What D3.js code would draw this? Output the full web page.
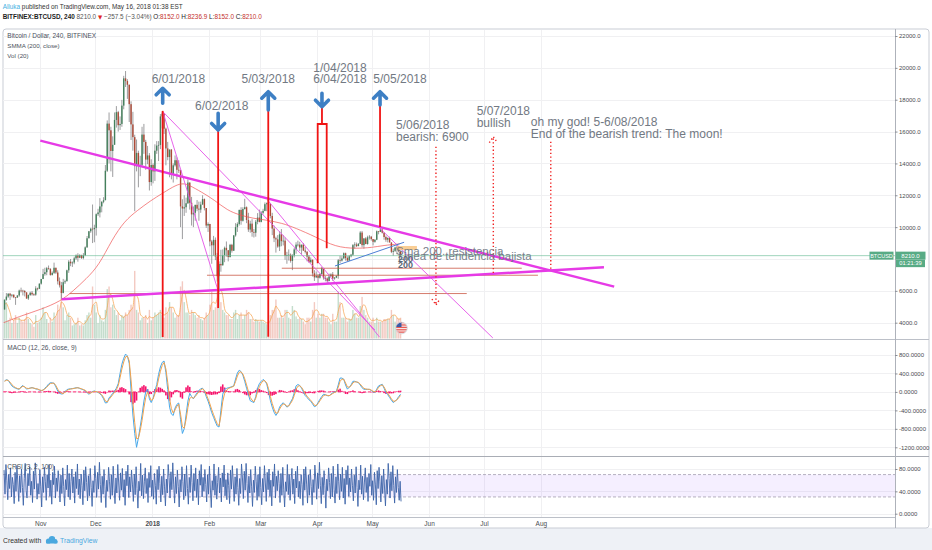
<!DOCTYPE html>
<html>
<head>
<meta charset="utf-8">
<script src="https://cdn.jsdelivr.net/npm/d3@7"></script>
<style>
html, body { margin: 0; padding: 0; background: #fff; }
svg { display: block; font-family: "Liberation Sans", Arial, sans-serif; }
text { white-space: pre; }
</style>
</head>
<body>
<svg id="chart" width="932" height="550"></svg>
<script>
// ---- daily candles, Bitfinex BTCUSD (12 Oct 2017 .. 16 May 2018)
var firstOpen = 4830;
var highs = [
  5450,5860,5850,5870,5780,5770,5600,5730,6080,6200,6070,6050,5920,5770,5950,5990,5850,6290,6200,6470,
  6750,7380,7450,7500,7590,7420,7220,7770,7440,7290,6840,6560,6750,6700,7330,7930,8000,7850,8140,8290,8360,8300,8270,8370,8790,9440,9760,9960,11420,10150,
  10860,11150,11820,11630,11880,13900,16700,17200,16300,15700,17200,17600,17300,16950,17990,19500,19800,19290,18950,17900,17240,15800,15500,14800,14480,16300,16480,15480,15100,14650,14260,
  14000,15200,15400,15400,17100,17250,17100,16250,15350,14850,14900,14000,14500,14380,14200,13600,11750,12000,11850,13000,12800,11900,11300,11400,11700,11600,11600,12000,11800,11200,10300,
  10200,9200,9450,9350,8380,7850,8580,8600,8780,9100,8560,8950,8950,9500,10250,10300,11100,11250,11250,11780,11300,10900,10400,10500,9890,10450,10880,11100,
  11000,11150,11550,11550,11700,11480,10900,10100,9400,9500,9750,9880,9500,9350,8450,8600,8350,8300,8700,9050,9150,9080,8900,9000,8750,8500,8250,8100,7970,7300,7220,
  7050,7100,7500,7440,6930,6850,7080,7100,7180,6870,6970,8000,8200,8180,8410,8400,8170,8250,8320,8940,9050,9030,9000,9750,9760,9310,9370,9460,9500,9450,
  9250,9240,9790,9750,9950,9860,9670,9470,9360,9400,9040,8650,8770,8880,8830,8500
];
var lows = [
  4820,5380,5560,5430,5590,5540,5120,5560,5630,5900,5710,5650,5500,5430,5680,5700,5680,5690,6020,6110,
  6390,6740,6950,6980,7330,6950,6960,7060,7060,6400,6210,5500,5840,6430,6600,7130,7550,7500,7670,7950,7830,8050,8000,7980,8180,8700,9300,9640,9000,9050,
  9470,10700,10610,10930,11500,11700,13460,14000,13500,13150,15170,16250,16000,16100,16300,17400,18800,18050,16600,15470,14800,11000,13500,12500,13200,13820,14600,13600,13950,12300,12600,
  12750,12900,14600,14150,14900,16200,15850,13880,14200,13130,13000,12800,13800,13000,13400,10000,9250,10700,10900,11450,11100,10100,10000,10400,11000,10400,10900,11400,11050,9950,9700,
  8800,7700,8200,7930,6580,5970,7200,7600,7800,8150,7850,8100,8400,8500,9400,9700,10100,10150,10350,11100,10250,9700,9650,9400,9350,9400,10180,10300,
  10300,10800,11000,11000,11400,10550,9500,9060,8400,8700,8500,8800,8850,7950,7700,7900,7770,7300,8100,8330,8780,8500,8300,8500,8350,7850,7780,7750,6900,6620,6800,
  6450,6770,7020,6700,6600,6500,6600,6900,6630,6700,6800,6760,7750,7840,8030,7900,7840,7880,8100,8200,8650,8750,8800,8940,8730,8650,8930,8900,9220,9150,
  8850,9020,9180,9550,9710,9600,9210,9080,9040,9030,8370,8200,8440,8300,8430,8150
];
var closes = [
  5440,5640,5820,5700,5760,5600,5580,5710,6020,6010,5990,5900,5520,5740,5880,5780,5760,6150,6130,6450,
  6740,7050,7170,7420,7380,7000,7130,7450,7150,6600,6350,5870,6540,6600,7290,7830,7730,7780,8040,8230,8080,8250,8060,8240,8730,9300,9740,9900,9870,9950,
  10810,10920,11300,11590,11690,13540,16500,16080,14780,15170,16730,17220,16400,16480,17630,19340,19170,18940,17720,16450,15650,13830,14660,13900,13910,15810,15350,14240,14500,12830,13900,
  13500,14800,15120,15160,16950,17130,16180,14940,14400,14870,13300,13880,14200,13600,13580,11300,11170,11250,11500,12800,11530,10800,10900,11400,11160,11100,11420,11760,11200,10100,10200,
  9100,8860,9200,8160,6920,7690,7600,8240,8700,8550,8120,8890,8520,9480,10000,10200,11080,10400,11140,11250,10450,9850,10220,9700,9650,10340,10600,10330,
  10900,11020,11440,11500,11460,10700,9910,9300,9230,8780,9550,9120,9150,8200,8250,8270,7880,8220,8600,8900,8900,8720,8900,8530,8450,8150,7800,7950,7100,6850,6930,
  6820,7050,7420,6800,6780,6620,6900,7030,6770,6830,6940,7920,7900,8030,8360,8060,7900,8170,8270,8870,8910,8810,8950,9660,8870,9290,8940,9360,9400,9250,
  9080,9210,9740,9700,9850,9650,9380,9210,9320,9040,8450,8510,8720,8690,8480,8210
];
var volumes = [
  30,28,14,16,12,14,18,12,16,14,13,15,20,15,12,11,9,18,12,13,
  16,24,20,15,12,16,13,20,17,26,22,36,24,14,18,20,16,10,11,12,16,10,11,10,14,18,20,16,40,26,
  20,12,18,14,13,22,38,40,24,26,22,18,20,14,18,17,20,18,22,26,24,52,22,20,14,16,16,18,12,22,14,
  16,20,18,20,22,18,16,24,20,28,24,20,16,18,18,40,44,28,20,20,18,22,20,18,16,18,15,14,16,20,18,
  26,36,22,24,36,48,28,22,20,18,18,15,15,20,22,15,18,20,15,18,22,20,15,15,13,15,14,13,
  14,13,12,11,13,18,22,22,30,16,16,18,16,22,22,16,15,25,22,17,15,16,15,13,11,16,16,13,22,28,16,
  19,16,19,19,16,16,13,11,19,13,13,36,28,16,16,16,13,15,15,22,19,16,16,25,32,22,18,16,13,13,
  16,12,16,13,13,13,15,15,15,15,22,18,13,16,15,16
];
var volMa = [
  26,27,24,20,15,14,15,15,15,14,14,14,16,16,15,13,11,13,13,14,
  15,18,20,20,17,15,14,16,17,21,22,28,27,24,19,17,17,15,12,11,13,13,12,11,12,14,17,18,25,27,
  28,20,17,15,15,16,24,33,34,30,24,22,20,18,17,16,18,18,20,22,24,34,33,30,19,17,16,17,15,17,16,
  16,17,18,19,20,19,18,19,20,24,24,24,20,18,17,25,34,37,31,23,19,20,20,20,18,17,16,16,15,17,18,
  21,27,28,27,31,36,37,33,23,20,19,17,16,17,19,19,18,18,18,18,18,20,19,17,14,14,14,14,
  14,14,13,12,12,14,18,21,25,23,21,17,17,19,20,20,18,19,21,21,18,16,15,15,13,13,14,15,17,21,22,
  21,18,18,18,17,17,15,13,14,14,15,21,26,27,20,16,15,15,14,17,19,19,17,19,24,26,24,19,16,14,
  14,14,15,14,14,13,14,14,15,15,17,18,18,16,15,15
];

// SMMA (200, close) read at a few dates
var smmaDates = ["2017-10-12","2017-10-22","2017-11-01","2017-11-12","2017-11-19","2017-11-26","2017-12-03","2017-12-10",
  "2017-12-17","2017-12-24","2017-12-31","2018-01-07","2018-01-14","2018-01-18","2018-01-21","2018-01-28","2018-02-04",
  "2018-02-11","2018-02-18","2018-02-25","2018-03-04","2018-03-13","2018-03-20","2018-03-31","2018-04-11","2018-04-22",
  "2018-05-01","2018-05-07","2018-05-16"];
var smmaValues = [4000,4450,4820,5340,6000,6750,7600,9200,10400,11050,11650,12150,12650,12750,12650,12200,11700,
  11050,10750,10550,10450,10250,9950,9400,8750,8650,8720,8850,8950];

// MACD (12, 26, close, 9), one value per day
var macd = [
  238,265,250,190,130,100,80,65,58,110, 140,100,65,70,85,94,80,65,58,40, 25,40,80,120,170,200,195,187,110,20,
  -30,-45,-40,10,50,62,68,72,80,90, 92,75,60,45,25,-15,-50,-20,10,20, 5,-10,-40,-80,-150,-240,-230,-130,-86,-30,
  20,80,180,400,600,730,820,780,620,40, -500,-900,-1200,-1000,-750,-500,-200,0,58,-150, -230,-140,20,160,380,540,640,670,420,50,
  -330,-480,-510,-350,-270,-240,-600,-900,-800,-500, -200,-30,-100,-150,-80,-20,30,70,80,20, -100,-200,-320,-450,-550,-650,-740,-760,-400,-50,
  60,75,90,100,115,130,280,410,470,440, 360,230,80,-60,-190,-210,-230,-100,80,180, 230,270,240,170,0,-190,-330,-440,-510,-450,
  -330,-270,-235,-280,-330,-300,-220,-150,-20,130, 160,140,80,0,-80,-120,-170,-200,-260,-320, -300,-230,-160,-100,-50,-60,-80,-86,-50,-20,
  0,15,150,300,300,275,150,60,100,150, 230,230,215,200,150,90,58,55,55,55, 30,0,-10,60,130,150,165,80,-14,-60,
  -120,-180,-230,-200,-160,-100,-50
];
var signal = [
  230,253,251,211,158,120,94,75,64,94, 124,108,80,74,81,89,83,71,63,48, 33,38,65,101,146,181,190,188,137,61,
  2,-29,-36,-6,30,51,62,69,76,85, 90,80,67,53,35,3,-31,-24,-2,12, 7,-4,-27,-61,-119,-198,-219,-161,-112,-59,
  -8,49,134,307,497,648,760,773,674,262, -233,-667,-1013,-1005,-839,-619,-347,-121,-5,-99, -184,-155,-41,90,279,449,573,636,496,206,
  -142,-362,-458,-388,-311,-265,-483,-754,-784,-599, -340,-139,-114,-137,-100,-48,3,47,68,37, -52,-148,-260,-384,-492,-595,-689,-735,-517,-213,
  -36,36,71,90,106,122,225,345,426,435, 386,285,152,14,-119,-178,-212,-139,3,118, 191,242,241,195,68,-100,-250,-374,-462,-454,
  -373,-306,-260,-273,-310,-304,-249,-185,-78,57, 124,134,99,35,-40,-92,-143,-180,-232,-289, -296,-253,-193,-133,-79,-67,-75,-82,-61,-34,
  -12,6,100,230,276,275,194,107,102,133, 196,218,216,206,170,118,79,63,58,56, 39,14,-2,38,98,132,153,106,28,-29,
  -88,-148,-201,-200,-174,-126,-77
];

// CRSI (3, 2, 100), two readings per day
var crsi = [
  78,35,88,60,25,70,45,82,30,65,52,18,74,40,86,55,22,68,38,80,
  47,15,63,90,42,28,72,50,84,33,58,20,76,44,91,62,26,54,35,79,
  48,12,66,38,83,57,24,70,46,88,31,60,17,74,52,85,28,64,40,77,
  55,21,69,36,82,49,14,61,43,87,30,72,25,58,80,37,66,19,75,45,
  89,34,62,27,71,50,16,78,41,84,56,23,68,32,81,47,13,59,38,86,
  63,29,74,44,92,52,20,67,35,79,48,11,60,40,83,57,26,70,33,85,
  46,18,64,37,88,55,24,73,42,81,30,61,15,76,50,87,29,66,39,78,
  53,22,71,34,84,45,10,58,41,90,32,69,27,57,82,36,63,20,74,47,
  86,31,60,26,72,51,17,79,43,85,54,21,67,34,80,48,14,62,37,88,
  65,28,75,43,91,53,19,66,36,78,49,12,61,39,84,58,25,71,32,86,
  45,17,65,38,87,56,23,72,41,82,29,62,16,77,51,88,30,65,40,79,
  52,21,70,35,85,46,11,59,42,89,33,68,26,56,83,37,64,21,73,48,
  87,32,61,25,73,50,18,78,44,86,55,22,66,35,81,47,15,63,36,89,
  64,27,76,42,90,54,20,67,37,79,48,13,60,38,85,57,24,70,31,84,
  47,16,63,39,86,55,22,74,43,80,31,60,14,75,49,89,28,67,41,77,
  54,20,72,33,83,44,12,57,40,88,34,70,24,59,81,35,62,18,76,46,
  85,30,58,27,70,52,15,80,42,84,53,19,69,33,79,49,16,61,38,87,
  62,26,73,45,92,51,18,65,34,77,50,10,62,41,82,56,27,72,30,85,
  44,19,66,36,89,57,25,71,40,83,28,63,17,78,52,86,31,64,39,80,
  51,23,69,37,84,47,13,60,43,87,35,67,25,55,82,38,65,22,72,49,
  88,33,59,24,74,53,16,77,45,83,57,21,68,36,80,46,14,61,35,90,
  63,28,75,41,86,50,19,66,38,79,47,24,58,22
];

// axes (8000.0 is hidden under the last-price label in the reference)
var priceTicks = [4000,6000,8000,10000,12000,14000,16000,18000,20000,22000];
var priceLabels = [4000,6000,10000,12000,14000,16000,18000,20000,22000];
var macdTicks = [800,400,0,-400,-800,-1200];
var crsiTicks = [80,40,0];
var monthDates = ["2017-11-01","2017-12-01","2018-01-01","2018-02-01","2018-03-01","2018-04-01","2018-05-01","2018-06-01","2018-07-01","2018-08-01"];
var monthLabels = ["Nov","Dec","2018","Feb","Mar","Apr","May","Jun","Jul","Aug"];
var lastPrice = 8210, countdown = "01:21:39";
var quote = [["O:", "8152.0"], ["H:", "8236.9"], ["L:", "8152.0"], ["C:", "8210.0"]];

// drawings on the chart, in date / price
var thickLines = [
  ["2017-11-01 00:00", 15430, "2018-09-10 00:00", 6260],
  ["2017-11-12 16:00", 5470, "2018-09-04 10:00", 7480]
];
var thinLines = [
  ["2018-01-06 20:00", 17250, "2018-02-06 00:00", 6000],
  ["2018-01-06 20:00", 17250, "2018-05-02 12:00", 3540],
  ["2018-03-05 00:00", 11700, "2018-05-05 00:00", 3100],
  ["2018-05-05 00:00", 9950, "2018-07-05 20:00", 3040]
];
var blueLines = [["2018-04-10 17:00", 7560, "2018-05-18 10:00", 9050]];
var levels = [
  [7420, "2018-03-12 17:00", "2018-07-21 14:00"],
  [6980, "2018-01-30 22:00", "2018-07-30 10:00"],
  [5830, "2017-11-17 00:00", "2018-06-21 14:00"]
];
var redMarks = [
  ["2018-01-06 18:00", 17300, 3100],
  ["2018-02-06 00:00", 16410, 4920],
  ["2018-03-05 08:00", 17350, 3120],
  ["2018-05-05 07:00", 17670, 10010]
];
var aprilMark = ["2018-04-01 07:00", "2018-04-03 15:00", "2018-04-06 05:00", 17560, 16475, 7730, 8670];
var arrows = [
  ["2018-01-06 18:00", 17775, 18717],
  ["2018-02-06 00:00", 17147, 16098],
  ["2018-03-05 08:00", 17354, 18503],
  ["2018-04-03 15:00", 18403, 17561],
  ["2018-05-05 07:00", 17668, 18503]
];
var dottedMarks = [
  ["2018-06-04 19:00", 15050, 5110, "down"],
  ["2018-07-06 02:00", 7120, 15680, "up"],
  ["2018-08-06 10:00", 15364, 7310, ""]
];
var notes = [
  ["2017-12-31 18:00", 19030, "6/01/2018"],
  ["2018-01-24 09:00", 17354, "6/02/2018"],
  ["2018-02-18 19:00", 19030, "5/03/2018"],
  ["2018-03-29 22:00", 19759, "1/04/2018"],
  ["2018-03-29 22:00", 19030, "6/04/2018"],
  ["2018-05-01 15:00", 19030, "5/05/2018"],
  ["2018-05-14 00:00", 16142, "5/06/2018"],
  ["2018-05-14 00:00", 15427, "bearish: 6900"],
  ["2018-06-27 00:00", 17040, "5/07/2018"],
  ["2018-06-27 00:00", 16306, "bullish"],
  ["2018-07-26 12:00", 16350, "oh my god! 5-6/08/2018"],
  ["2018-07-26 12:00", 15615, "End of the bearish trend: The moon!"]
];
var overlapNotes = [
  ["2018-05-14 00:00", 8250, "Sma 200. resistencia"],
  ["2018-05-15 02:00", 7937, "Linea de tendencia bajista"]
];
var stackNotes = [["2018-05-15 02:00", 7810, "200"], ["2018-05-15 02:00", 7450, "200"]];
var orangeBox = ["2018-05-14 12:00", "2018-05-25 10:00", 8816, 8565];
var eventDate = "2018-05-17 00:00";

// ---- scales
var parseDay = d3.timeParse("%Y-%m-%d");
var parseTime = d3.timeParse("%Y-%m-%d %H:%M");
var start = parseDay("2017-10-12");
var dayTime = function(i) { return d3.timeHour.offset(start, i * 24 + 12); };

var L = 3, R = 895;
var mainTop = 30, mainBottom = 339, macdTop = 340, macdBottom = 456, rsiTop = 457, rsiBottom = 517;

var x = d3.scaleTime().domain([parseDay("2017-11-01"), parseDay("2018-06-01")]).range([40.3, 429]);
var y = d3.scaleLinear().domain([4000, 22000]).range([322.7, 36]);
var yVol = d3.scaleLinear().domain([0, 60]).range([338.5, 260.5]);
var yMacd = d3.scaleLinear().domain([-1200, 800]).range([447.3, 355]);
var yRsi = d3.scaleLinear().domain([0, 80]).range([513.7, 469]);

var svg = d3.select("#chart");
var defs = svg.append("defs");
function clip(id, y0, y1) {
  defs.append("clipPath").attr("id", id).append("rect")
    .attr("x", L).attr("y", y0).attr("width", R - L).attr("height", y1 - y0);
}
clip("clipMain", mainTop, mainBottom);
clip("clipMacd", macdTop, macdBottom);
clip("clipRsi", rsiTop, rsiBottom);

// footer band and frame
svg.append("rect").attr("x", 0).attr("y", 528).attr("width", 932).attr("height", 22).attr("fill", "#eef1f6");
svg.append("rect").attr("x", 3).attr("y", 29).attr("width", 926).attr("height", 499).attr("rx", 3)
  .attr("fill", "#fff").attr("stroke", "#c9cdd5");

// grid
var grid = svg.append("g").attr("stroke", "#f0f0f2").attr("stroke-width", 1);
monthDates.forEach(function(m) {
  var xx = Math.round(x(parseDay(m))) + 0.5;
  grid.append("line").attr("x1", xx).attr("x2", xx).attr("y1", mainTop).attr("y2", rsiBottom);
});
priceTicks.forEach(function(t) {
  grid.append("line").attr("x1", L).attr("x2", R).attr("y1", Math.round(y(t)) + 0.5).attr("y2", Math.round(y(t)) + 0.5);
});
macdTicks.forEach(function(t) {
  grid.append("line").attr("x1", L).attr("x2", R).attr("y1", Math.round(yMacd(t)) + 0.5).attr("y2", Math.round(yMacd(t)) + 0.5);
});
crsiTicks.forEach(function(t) {
  grid.append("line").attr("x1", L).attr("x2", R).attr("y1", Math.round(yRsi(t)) + 0.5).attr("y2", Math.round(yRsi(t)) + 0.5);
});

// ---- main pane
var bars = closes.map(function(c, i) {
  var o = i === 0 ? firstOpen : closes[i - 1];
  return { t: dayTime(i), o: o, c: c, h: Math.max(highs[i], o, c), l: Math.min(lows[i], o, c), v: volumes[i] };
});

var gMain = svg.append("g").attr("clip-path", "url(#clipMain)");

gMain.append("g").selectAll("rect").data(bars).join("rect")
  .attr("x", function(d) { return x(d.t) - 0.7; })
  .attr("width", 1.4)
  .attr("y", function(d) { return yVol(d.v); })
  .attr("height", function(d) { return yVol(0) - yVol(d.v); })
  .attr("fill", function(d) { return d.c >= d.o ? "#9cc7aa" : "#eba598"; })
  .attr("opacity", 0.6);

gMain.append("path").datum(volMa)
  .attr("fill", "none").attr("stroke", "#f5a04a").attr("stroke-width", 0.8).attr("opacity", 0.9)
  .attr("d", d3.line().x(function(d, i) { return x(dayTime(i)); }).y(function(d) { return yVol(d); }).curve(d3.curveMonotoneX));

// candles
gMain.append("g").selectAll("line").data(bars).join("line")
  .attr("x1", function(d) { return x(d.t); }).attr("x2", function(d) { return x(d.t); })
  .attr("y1", function(d) { return y(d.h); }).attr("y2", function(d) { return y(d.l); })
  .attr("stroke", "#737375").attr("stroke-width", 0.7);
gMain.append("g").selectAll("rect").data(bars).join("rect")
  .attr("x", function(d) { return x(d.t) - 0.7; })
  .attr("width", 1.4)
  .attr("y", function(d) { return y(Math.max(d.o, d.c)); })
  .attr("height", function(d) { return Math.max(0.7, Math.abs(y(d.o) - y(d.c))); })
  .attr("fill", function(d) { return d.c >= d.o ? "#44805c" : "#ad4a37"; });

// SMMA
var smma = smmaDates.map(function(d, i) { return [parseDay(d), smmaValues[i]]; });
gMain.append("path").datum(smma)
  .attr("fill", "none").attr("stroke", "#ee4f4f").attr("stroke-width", 0.8).attr("opacity", 0.85)
  .attr("d", d3.line().x(function(d) { return x(d[0]); }).y(function(d) { return y(d[1]); }).curve(d3.curveBasis));

// last price line
gMain.append("line").attr("x1", L).attr("x2", R).attr("y1", y(lastPrice)).attr("y2", y(lastPrice))
  .attr("stroke", "#6cbf97").attr("stroke-width", 0.8).attr("opacity", 0.8);

// drawings
var gDraw = gMain.append("g");
function seg(d) { return [x(parseTime(d[0])), y(d[1]), x(parseTime(d[2])), y(d[3])]; }
levels.forEach(function(d) {
  gDraw.append("line").attr("x1", x(parseTime(d[1]))).attr("x2", x(parseTime(d[2])))
    .attr("y1", y(d[0])).attr("y2", y(d[0]))
    .attr("stroke", "#c8503c").attr("stroke-width", 1).attr("opacity", 0.75);
});
thinLines.forEach(function(d) {
  var s = seg(d);
  gDraw.append("line").attr("x1", s[0]).attr("y1", s[1]).attr("x2", s[2]).attr("y2", s[3])
    .attr("stroke", "#e452e8").attr("stroke-width", 0.9);
});
blueLines.forEach(function(d) {
  var s = seg(d);
  gDraw.append("line").attr("x1", s[0]).attr("y1", s[1]).attr("x2", s[2]).attr("y2", s[3])
    .attr("stroke", "#4d7fd6").attr("stroke-width", 1);
});
gDraw.append("rect").attr("x", x(parseTime(orangeBox[0]))).attr("width", x(parseTime(orangeBox[1])) - x(parseTime(orangeBox[0])))
  .attr("y", y(orangeBox[2])).attr("height", y(orangeBox[3]) - y(orangeBox[2]))
  .attr("fill", "#f7c27a").attr("opacity", 0.8);
thickLines.forEach(function(d) {
  var s = seg(d);
  gDraw.append("line").attr("x1", s[0]).attr("y1", s[1]).attr("x2", s[2]).attr("y2", s[3])
    .attr("stroke", "#e63ae6").attr("stroke-width", 2.4);
});
redMarks.forEach(function(d) {
  var xx = x(parseTime(d[0]));
  gDraw.append("line").attr("x1", xx).attr("x2", xx).attr("y1", y(d[1])).attr("y2", y(d[2]))
    .attr("stroke", "#f01414").attr("stroke-width", 1.8);
});
(function() {
  var xl = x(parseTime(aprilMark[0])), xm = x(parseTime(aprilMark[1])), xr = x(parseTime(aprilMark[2]));
  var p = d3.path();
  p.moveTo(xm, y(aprilMark[3])); p.lineTo(xm, y(aprilMark[4]));
  p.moveTo(xl, y(aprilMark[5])); p.lineTo(xl, y(aprilMark[4])); p.lineTo(xr, y(aprilMark[4])); p.lineTo(xr, y(aprilMark[6]));
  gDraw.append("path").attr("d", p.toString()).attr("fill", "none").attr("stroke", "#f01414").attr("stroke-width", 1.8);
})();
dottedMarks.forEach(function(d) {
  var xx = x(parseTime(d[0])), y1 = y(d[1]), y2 = y(d[2]);
  var p = d3.path();
  p.moveTo(xx, y1); p.lineTo(xx, y2);
  if (d[3] === "down") { p.moveTo(xx - 4, y2 - 6); p.lineTo(xx, y2); p.lineTo(xx + 4, y2 - 6); }
  if (d[3] === "up") { p.moveTo(xx - 4, y2 + 6); p.lineTo(xx, y2); p.lineTo(xx + 4, y2 + 6); }
  gDraw.append("path").attr("d", p.toString()).attr("fill", "none")
    .attr("stroke", "#f02020").attr("stroke-width", 1.4).attr("stroke-dasharray", "1.3,2.4");
});
arrows.forEach(function(d) {
  var xx = x(parseTime(d[0])), y1 = y(d[1]), y2 = y(d[2]);
  var dir = y2 > y1 ? 1 : -1;
  var p = d3.path();
  p.moveTo(xx, y1); p.lineTo(xx, y2);
  p.moveTo(xx - 6.5, y2 - dir * 6.5); p.lineTo(xx, y2); p.lineTo(xx + 6.5, y2 - dir * 6.5);
  gDraw.append("path").attr("d", p.toString()).attr("fill", "none")
    .attr("stroke", "#3d7fc4").attr("stroke-width", 3.6)
    .attr("stroke-linecap", "round").attr("stroke-linejoin", "round");
});
notes.forEach(function(d) {
  gDraw.append("text").attr("x", x(parseTime(d[0]))).attr("y", y(d[1]))
    .attr("font-size", 12).attr("fill", "#727983").text(d[2]);
});
overlapNotes.forEach(function(d) {
  gDraw.append("text").attr("x", x(parseTime(d[0]))).attr("y", y(d[1]))
    .attr("font-size", 11.5).attr("fill", "#6b747f").attr("opacity", 0.9).text(d[2]);
});
stackNotes.forEach(function(d) {
  gDraw.append("text").attr("x", x(parseTime(d[0]))).attr("y", y(d[1]))
    .attr("font-size", 9).attr("font-weight", "bold").attr("fill", "#5b6674").text(d[2]);
});

// economic event icon
defs.append("clipPath").attr("id", "flagClip").append("circle").attr("r", 5.8);
var flag = gMain.append("g").attr("transform", "translate(" + x(parseTime(eventDate)) + ",328)");
var fl = flag.append("g").attr("clip-path", "url(#flagClip)");
fl.append("rect").attr("x", -6).attr("y", -6).attr("width", 12).attr("height", 12).attr("fill", "#fff");
d3.range(7).forEach(function(k) {
  fl.append("rect").attr("x", -6).attr("y", -6 + k * 1.72).attr("width", 12).attr("height", 0.86).attr("fill", "#e0403a");
});
fl.append("rect").attr("x", -6).attr("y", -6).attr("width", 6).attr("height", 5).attr("fill", "#3b5ba6");
flag.append("circle").attr("r", 5.8).attr("fill", "none").attr("stroke", "#cfd3da").attr("stroke-width", 0.8);

// ---- MACD pane
var gMacd = svg.append("g").attr("clip-path", "url(#clipMacd)");
gMacd.append("line").attr("x1", L).attr("x2", 402).attr("y1", yMacd(0)).attr("y2", yMacd(0))
  .attr("stroke", "#ff3d80").attr("stroke-width", 1).attr("stroke-dasharray", "3,2");
gMacd.append("g").selectAll("rect").data(macd).join("rect")
  .attr("x", function(d, i) { return x(dayTime(i)) - 0.8; })
  .attr("width", 1.6)
  .attr("y", function(d, i) { return yMacd(Math.max(0, d - signal[i])); })
  .attr("height", function(d, i) { return Math.abs(yMacd(0) - yMacd(d - signal[i])); })
  .attr("fill", "#f5146c");
var macdLine = d3.line().x(function(d, i) { return x(dayTime(i)); }).y(function(d) { return yMacd(d); });
gMacd.append("path").datum(macd).attr("fill", "none").attr("stroke", "#46a8ea").attr("stroke-width", 1).attr("d", macdLine);
gMacd.append("path").datum(signal).attr("fill", "none").attr("stroke", "#f2a24c").attr("stroke-width", 1).attr("d", macdLine);

// ---- CRSI pane
var gRsi = svg.append("g").attr("clip-path", "url(#clipRsi)");
gRsi.append("rect").attr("x", L).attr("width", R - L).attr("y", yRsi(70)).attr("height", yRsi(30) - yRsi(70))
  .attr("fill", "#9966ff").attr("opacity", 0.1);
[70, 30].forEach(function(v) {
  gRsi.append("line").attr("x1", L).attr("x2", R).attr("y1", yRsi(v)).attr("y2", yRsi(v))
    .attr("stroke", "#a49db0").attr("stroke-width", 0.8).attr("stroke-dasharray", "3,2");
});
gRsi.append("path").datum(crsi).attr("fill", "none").attr("stroke", "#3d64a8").attr("stroke-width", 0.9)
  .attr("d", d3.line().x(function(d, j) { return x(d3.timeHour.offset(start, j * 12 + 6)); }).y(function(d) { return yRsi(d); }));

// ---- separators
svg.append("line").attr("x1", L).attr("x2", 929).attr("y1", 339.5).attr("y2", 339.5).attr("stroke", "#bcc0c8");
svg.append("line").attr("x1", L).attr("x2", 929).attr("y1", 456.5).attr("y2", 456.5).attr("stroke", "#a9adb5").attr("stroke-width", 1.2);
svg.append("line").attr("x1", L).attr("x2", R).attr("y1", 517.5).attr("y2", 517.5).attr("stroke", "#bcc0c8");
svg.append("line").attr("x1", R + 0.5).attr("x2", R + 0.5).attr("y1", 29).attr("y2", 528).attr("stroke", "#aeb2ba");

// ---- value axes
function styleAxis(g) {
  g.select(".domain").remove();
  g.selectAll("line").attr("stroke", "#8a8e96");
  g.selectAll("text").attr("font-size", 6).attr("fill", "#4a4d52").attr("font-family", "Liberation Sans, Arial, sans-serif");
}
svg.append("g").attr("transform", "translate(" + R + ",0)")
  .call(d3.axisRight(y).tickValues(priceLabels).tickSize(2.5).tickPadding(1.5).tickFormat(function(d) { return d.toFixed(1); }))
  .call(styleAxis);
svg.append("g").attr("transform", "translate(" + R + ",0)")
  .call(d3.axisRight(yMacd).tickValues(macdTicks).tickSize(2.5).tickPadding(1.5).tickFormat(function(d) { return d.toFixed(4); }))
  .call(styleAxis);
svg.append("g").attr("transform", "translate(" + R + ",0)")
  .call(d3.axisRight(yRsi).tickValues(crsiTicks).tickSize(2.5).tickPadding(1.5).tickFormat(function(d) { return d.toFixed(4); }))
  .call(styleAxis);

// time axis
var tAxis = svg.append("g").attr("transform", "translate(0," + rsiBottom + ")")
  .call(d3.axisBottom(x).tickValues(monthDates.map(parseDay)).tickSize(0).tickPadding(4)
    .tickFormat(function(d, i) { return monthLabels[i]; }));
tAxis.select(".domain").remove();
tAxis.selectAll("text").attr("font-size", 6.5).attr("fill", "#4a4d52")
  .attr("font-weight", function(d, i) { return monthLabels[i] === "2018" ? "bold" : null; });

// last price labels
var py = y(lastPrice);
svg.append("rect").attr("x", 869.5).attr("y", py - 4).attr("width", 24).attr("height", 8).attr("fill", "#58ab85");
svg.append("text").attr("x", 881.5).attr("y", py + 2).attr("text-anchor", "middle").attr("font-size", 5.5).attr("fill", "#fff").text("BTCUSD");
svg.append("rect").attr("x", 895.5).attr("y", py - 4).attr("width", 30).attr("height", 8).attr("fill", "#58ab85");
svg.append("text").attr("x", 910.5).attr("y", py + 2).attr("text-anchor", "middle").attr("font-size", 6).attr("fill", "#fff").text(lastPrice.toFixed(1));
svg.append("rect").attr("x", 896).attr("y", py + 4).attr("width", 29).attr("height", 7.5).attr("fill", "#58ab85");
svg.append("text").attr("x", 910.5).attr("y", py + 9.8).attr("text-anchor", "middle").attr("font-size", 5.8).attr("fill", "#fff").text(countdown);

// pane legends
function label(txt, xx, yy, size, fill) {
  return svg.append("text").attr("x", xx).attr("y", yy).attr("font-size", size).attr("fill", fill).text(txt);
}
label("Bitcoin / Dollar, 240, BITFINEX", 7.3, 38, 6.5, "#4c525c");
label("SMMA (200, close)", 7.3, 48, 6.2, "#4c525c");
label("Vol (20)", 7.3, 58, 6.2, "#4c525c");
label("MACD (12, 26, close, 9)", 7.3, 349.6, 6.5, "#4c525c");
label("CRSI (3, 2, 100)", 7.3, 468.6, 6.5, "#4c525c");

// header, one text per line
var h1 = svg.append("text").attr("x", 2.7).attr("y", 9).attr("font-size", 6.4);
h1.append("tspan").attr("fill", "#3fb0e2").text("Alluka");
h1.append("tspan").attr("fill", "#333").text(" published on TradingView.com, May 16, 2018 01:38 EST");

var h2 = svg.append("text").attr("x", 2.7).attr("y", 19.3).attr("font-size", 6.4);
h2.append("tspan").attr("font-weight", "bold").attr("fill", "#1e1e1e").text("BITFINEX:BTCUSD, 240");
h2.append("tspan").attr("fill", "#555").text(" " + lastPrice.toFixed(1) + " ");
h2.append("tspan").attr("fill", "#e0261e").attr("font-family", "DejaVu Sans").attr("font-size", 5.5).text("\u25BC");
h2.append("tspan").attr("fill", "#555").text(" \u2212257.5 (\u22123.04%) ");
quote.forEach(function(q, k) {
  h2.append("tspan").attr("fill", "#1e1e1e").text((k ? " " : "") + q[0]);
  h2.append("tspan").attr("fill", "#c4302b").text(q[1]);
});

// footer
label("Created with", 3, 543, 6.8, "#333");
var logo = svg.append("g").attr("fill", "#4aa8df");
logo.append("circle").attr("cx", 48.5).attr("cy", 541).attr("r", 2.6);
logo.append("circle").attr("cx", 52).attr("cy", 539.2).attr("r", 3.2);
logo.append("circle").attr("cx", 55.2).attr("cy", 541.3).attr("r", 2.3);
logo.append("rect").attr("x", 46).attr("y", 541).attr("width", 11.5).attr("height", 2.6).attr("rx", 1.2);
label("TradingView", 60, 543, 6.8, "#4aa8df");
</script>
</body>
</html>
